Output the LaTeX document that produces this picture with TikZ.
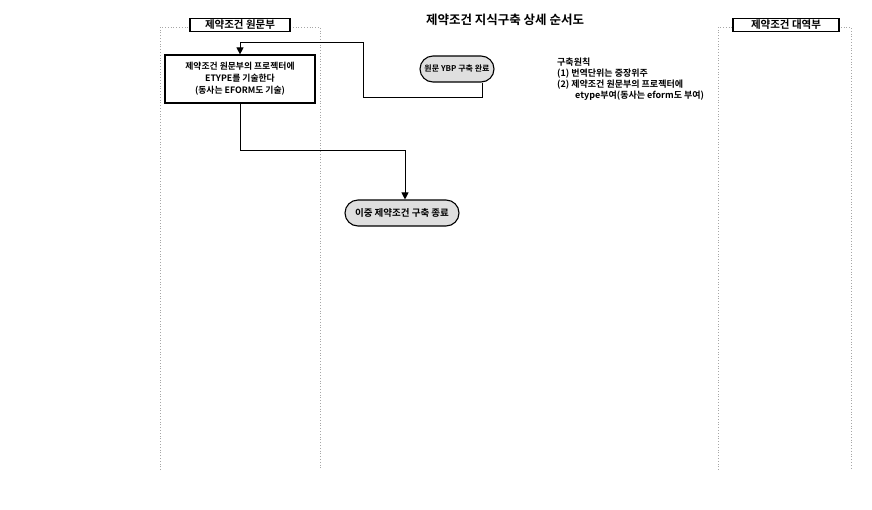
\documentclass[tikz,border=0pt]{standalone}
\usepackage{fontspec}
\newfontfamily\kr{Noto Sans CJK KR}
\newfontfamily\krb{Noto Sans CJK KR Bold}
\usetikzlibrary{arrows.meta,shapes.misc}
\begin{document}
\begin{tikzpicture}[x=1pt,y=-1pt,
  lane/.style={draw=gray!70,dotted,line width=0.8pt},
  lanehead/.style={draw=black,line width=1.6pt,fill=white,font=\krb\fontsize{10.5}{11}\selectfont,inner xsep=4pt,inner ysep=1.5pt,minimum width=100pt},
  procbox/.style={draw=black,line width=1.2pt,fill=white,align=center,font=\krb\fontsize{8.8}{12}\selectfont,minimum width=150pt,minimum height=48pt},
  term/.style={rounded rectangle,draw=black,line width=1.1pt,fill=gray!25,minimum height=26pt,inner xsep=6pt},
  flow/.style={draw=black,line width=1pt},
  arr/.style={flow,-{Triangle[length=7pt,width=7pt]}},
  note/.style={font=\krb\fontsize{9}{11}\selectfont,align=left,anchor=north west,inner sep=0pt}]
\useasboundingbox (0,0) rectangle (872,509);
% swimlanes
\draw[lane] (160,470) -- (160,27) -- (190,27);
\draw[lane] (290,27) -- (320,27) -- (320,470);
\draw[lane] (718,470) -- (718,27) -- (732,27);
\draw[lane] (838,27) -- (851,27) -- (851,470);
\node[lanehead] (h1) at (240,25) {제약조건 원문부};
\node[lanehead,minimum width=106pt] (h2) at (786,25) {제약조건 대역부};
\node[font=\krb\fontsize{12.5}{13}\selectfont] (title) at (505,20) {제약조건 지식구축 상세 순서도};
% nodes
\node[procbox] (p1) at (240,79) {제약조건 원문부의 프로젝터에\\ETYPE를 기술한다\\(동사는 EFORM도 기술)};
\node[term,minimum width=86pt,font=\krb\fontsize{8}{9}\selectfont] (t1) at (457,69) {원문 YBP 구축 완료};
\node[term,minimum width=126pt,font=\krb\fontsize{9.5}{10}\selectfont] (t2) at (402,213) {이중 제약조건 구축 종료};
\node[note] (n1) at (557,58) {구축원칙\\(1) 번역단위는 중장위주\\(2) 제약조건 원문부의 프로젝터에\\\hspace*{18pt}etype부여(동사는 eform도 부여)};
% connectors
\coordinate (c1) at (482,97);
\coordinate (c2) at (363,97);
\coordinate (c3) at (363,42);
\coordinate (c4) at (240,42);
\draw[arr] (t1.south -| c1) -- (c1) -- (c2) -- (c3) -- (c4) -- (p1.north);
\coordinate (d1) at (240,150);
\coordinate (d2) at (405,150);
\draw[arr] (p1.south) -- (d1) -- (d2) -- (d2 |- t2.north);
\end{tikzpicture}
\end{document}
